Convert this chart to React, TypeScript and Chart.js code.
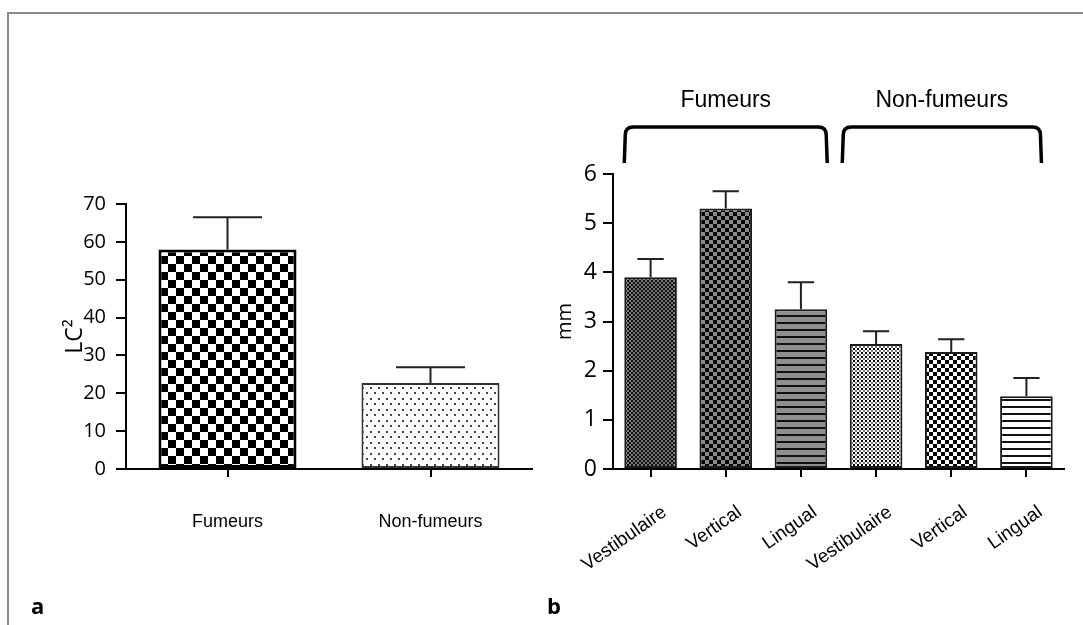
import React, { useEffect, useRef } from "react";
import { Chart, registerables } from "chart.js";
Chart.register(...registerables);

// ---------- data ----------
const leftCategories = ["Fumeurs", "Non-fumeurs"];
const leftValues = [58, 22.7];
const leftErrors = [8.5, 4.2];
const leftYTicks = [0, 10, 20, 30, 40, 50, 60, 70];

const rightCategories = ["Vestibulaire", "Vertical", "Lingual", "Vestibulaire", "Vertical", "Lingual"];
const rightValues = [3.9, 5.3, 3.25, 2.54, 2.38, 1.48];
const rightErrors = [0.37, 0.35, 0.55, 0.26, 0.26, 0.37];
const rightYTicks = [0, 1, 2, 3, 4, 5, 6];

const groupLabels = ["Fumeurs", "Non-fumeurs"];
const groupStart = [-0.35, 2.55];
const groupEnd = [2.35, 5.2];

// ---------- patterns ----------
function makePattern(kind: string): CanvasPattern {
  const c = document.createElement("canvas");
  const g = c.getContext("2d")!;
  const set = (w: number, h: number, bg: string) => {
    c.width = w;
    c.height = h;
    g.fillStyle = bg;
    g.fillRect(0, 0, w, h);
  };
  switch (kind) {
    case "checkerLarge":
      set(16, 16, "#ffffff");
      g.fillStyle = "#000";
      g.fillRect(0, 0, 8, 8);
      g.fillRect(8, 8, 8, 8);
      break;
    case "dots":
      set(8, 11, "#ffffff");
      g.fillStyle = "#444";
      g.fillRect(2, 2, 2, 2);
      g.fillRect(6, 7, 2, 2);
      break;
    case "fineDark":
      set(4, 4, "#111111");
      g.fillStyle = "#767676";
      g.fillRect(0, 0, 2, 2);
      g.fillRect(2, 2, 2, 2);
      break;
    case "checkerGray":
      set(8, 8, "#8a8a8a");
      g.fillStyle = "#000";
      g.fillRect(0, 0, 4, 4);
      g.fillRect(4, 4, 4, 4);
      break;
    case "stripesGray":
      set(4, 7, "#8f8f8f");
      g.fillStyle = "#111";
      g.fillRect(0, 0, 4, 2);
      break;
    case "fineLight":
      set(4, 4, "#ffffff");
      g.fillStyle = "#000";
      g.fillRect(0, 0, 2, 2);
      g.fillStyle = "#777";
      g.fillRect(2, 2, 2, 2);
      break;
    case "checkerSmall":
      set(8, 8, "#ffffff");
      g.fillStyle = "#000";
      g.fillRect(0, 0, 4, 4);
      g.fillRect(4, 4, 4, 4);
      break;
    case "stripesWhite":
    default:
      set(4, 7, "#ffffff");
      g.fillStyle = "#111";
      g.fillRect(0, 0, 4, 2);
      break;
  }
  return g.createPattern(c, "repeat")!;
}

const errorBarPlugin = (errors: number[], color: string, lw: number) => ({
  id: "errbars",
  afterDatasetsDraw(chart: any) {
    const meta = chart.getDatasetMeta(0);
    const y = chart.scales.y;
    const ctx = chart.ctx;
    const vals = chart.data.datasets[0].data as number[];
    ctx.save();
    ctx.strokeStyle = color;
    ctx.lineWidth = lw;
    meta.data.forEach((bar: any, i: number) => {
      const top = y.getPixelForValue(vals[i] + errors[i]);
      const base = y.getPixelForValue(vals[i]);
      const half = bar.width / 4;
      ctx.beginPath();
      ctx.moveTo(bar.x, base);
      ctx.lineTo(bar.x, top);
      ctx.moveTo(bar.x - half, top);
      ctx.lineTo(bar.x + half, top);
      ctx.stroke();
    });
    ctx.restore();
  },
});

const bracketPlugin = {
  id: "brackets",
  afterDraw(chart: any) {
    const x = chart.scales.x;
    const top = chart.chartArea.top;
    const ctx = chart.ctx;
    ctx.save();
    ctx.strokeStyle = "#000";
    ctx.lineWidth = 3.5;
    const yb = top - 11;
    const yt = top - 47;
    const r = 8;
    groupLabels.forEach((lab, i) => {
      const x0 = x.getPixelForValue(groupStart[i]);
      const x1 = x.getPixelForValue(groupEnd[i]);
      ctx.beginPath();
      ctx.moveTo(x0, yb);
      ctx.lineTo(x0 + 1, yt + r);
      ctx.quadraticCurveTo(x0 + 1, yt, x0 + 1 + r, yt);
      ctx.lineTo(x1 - 1 - r, yt);
      ctx.quadraticCurveTo(x1 - 1, yt, x1 - 1, yt + r);
      ctx.lineTo(x1, yb);
      ctx.stroke();
      ctx.fillStyle = "#000";
      ctx.font = '23px "Liberation Sans", Arial, sans-serif';
      ctx.textAlign = "center";
      ctx.textBaseline = "middle";
      ctx.fillText(lab, (x0 + x1) / 2, top - 73);
    });
    ctx.restore();
  },
};

const axisGrid = (tl: number) => ({
  display: true,
  drawOnChartArea: false,
  drawTicks: true,
  tickLength: tl,
  color: "#000",
  lineWidth: 2,
  offset: false,
});
const axisBorder = { display: true, color: "#000", width: 2 };

const fixXAxis = (s: any) => {
  s.height = 156;
  s.paddingLeft = 0;
  s.paddingRight = 0;
};

export default function App() {
  const leftRef = useRef<HTMLCanvasElement>(null);
  const rightRef = useRef<HTMLCanvasElement>(null);

  useEffect(() => {
    const left = new Chart(leftRef.current!, {
      type: "bar",
      data: {
        labels: leftCategories,
        datasets: [
          {
            data: leftValues,
            backgroundColor: [makePattern("checkerLarge"), makePattern("dots")],
            borderColor: ["#000", "#333"],
            borderWidth: [3, 2],
            borderSkipped: false,
            barPercentage: 0.68,
            categoryPercentage: 1,
          } as any,
        ],
      },
      options: {
        responsive: false,
        animation: false,
        devicePixelRatio: 1,
        layout: { padding: { left: 58, right: 18, top: 204, bottom: 0 } },
        plugins: { legend: { display: false }, tooltip: { enabled: false } },
        scales: {
          x: {
            afterFit: fixXAxis,
            grid: axisGrid(8) as any,
            border: axisBorder,
            ticks: {
              color: "#000",
              font: { family: '"Liberation Sans", Arial, sans-serif', size: 18 },
              padding: 34,
              maxRotation: 0,
              autoSkip: false,
            },
          },
          y: {
            min: 0,
            max: 70,
            afterFit: (s: any) => {
              s.width = 68;
            },
            afterBuildTicks: (s: any) => {
              s.ticks = leftYTicks.map((v) => ({ value: v }));
            },
            grid: axisGrid(10) as any,
            border: axisBorder,
            ticks: {
              color: "#000",
              font: { family: '"Open Sans", sans-serif', size: 20, weight: "500" },
              padding: 10,
            },
            title: {
              display: true,
              text: "LC²",
              color: "#000",
              font: { family: '"Open Sans", sans-serif', size: 23 },
              padding: { top: 4, bottom: 0 },
            },
          },
        },
      },
      plugins: [errorBarPlugin(leftErrors, "#222", 2)],
    });

    const right = new Chart(rightRef.current!, {
      type: "bar",
      data: {
        labels: rightCategories,
        datasets: [
          {
            data: rightValues,
            backgroundColor: [
              makePattern("fineDark"),
              makePattern("checkerGray"),
              makePattern("stripesGray"),
              makePattern("fineLight"),
              makePattern("checkerSmall"),
              makePattern("stripesWhite"),
            ],
            borderColor: "#1a1a1a",
            borderWidth: 2,
            borderSkipped: false,
            barPercentage: 0.7,
            categoryPercentage: 1,
          } as any,
        ],
      },
      options: {
        responsive: false,
        animation: false,
        devicePixelRatio: 1,
        layout: { padding: { left: 6, right: 19, top: 174, bottom: 0 } },
        plugins: { legend: { display: false }, tooltip: { enabled: false } },
        scales: {
          x: {
            afterFit: fixXAxis,
            grid: axisGrid(8) as any,
            border: axisBorder,
            ticks: {
              color: "#000",
              font: { family: '"Liberation Sans", Arial, sans-serif', size: 19 },
              padding: 24,
              minRotation: 35,
              maxRotation: 35,
              autoSkip: false,
              labelOffset: 14,
            },
          },
          y: {
            min: 0,
            max: 6,
            afterFit: (s: any) => {
              s.width = 62;
            },
            afterBuildTicks: (s: any) => {
              s.ticks = rightYTicks.map((v) => ({ value: v }));
            },
            grid: axisGrid(10) as any,
            border: axisBorder,
            ticks: {
              color: "#000",
              font: { family: '"Open Sans", sans-serif', size: 23, weight: "500" },
              padding: 6,
            },
            title: {
              display: true,
              text: "mm",
              color: "#000",
              font: { family: '"Open Sans", sans-serif', size: 20 },
              padding: { top: 2, bottom: 0 },
            },
          },
        },
      },
      plugins: [errorBarPlugin(rightErrors, "#222", 2), bracketPlugin],
    });

    return () => {
      left.destroy();
      right.destroy();
    };
  }, []);

  return (
    <div
      style={{
        position: "fixed",
        left: 0,
        top: 0,
        width: 1083,
        height: 625,
        background: "#fff",
        overflow: "hidden",
      }}
    >
      <div
        style={{
          position: "absolute",
          left: 7,
          top: 12,
          width: 1100,
          height: 700,
          borderTop: "2px solid #8c8c8c",
          borderLeft: "2px solid #8c8c8c",
        }}
      />
      <canvas
        ref={leftRef}
        width={550}
        height={625}
        style={{ position: "absolute", left: 0, top: 0, width: 550, height: 625 }}
      />
      <canvas
        ref={rightRef}
        width={538}
        height={625}
        style={{ position: "absolute", left: 545, top: 0, width: 538, height: 625 }}
      />
      <span
        style={{
          position: "absolute",
          left: 31,
          top: 594,
          font: 'bold 22px "Open Sans", sans-serif',
          lineHeight: "22px",
          color: "#000",
        }}
      >
        a
      </span>
      <span
        style={{
          position: "absolute",
          left: 547,
          top: 594,
          font: 'bold 22px "Open Sans", sans-serif',
          lineHeight: "22px",
          color: "#000",
        }}
      >
        b
      </span>
    </div>
  );
}
